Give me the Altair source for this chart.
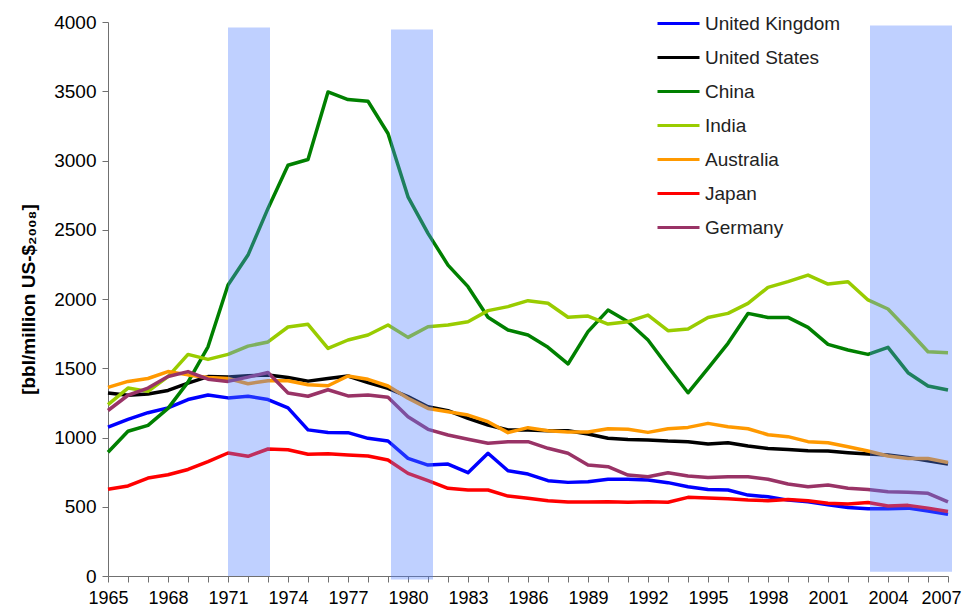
import altair as alt
import pandas as pd

years = list(range(1965, 2008))

countries = ["United Kingdom", "United States", "China", "India", "Australia", "Japan", "Germany"]
colors = ["#0000FF", "#000000", "#008000", "#99CC00", "#FF9900", "#FF0000", "#993366"]

uk = [1075, 1131, 1179, 1214, 1274, 1307, 1286, 1298, 1274, 1214, 1055, 1036,
      1035, 994, 975, 849, 801, 808, 746, 886, 760, 736, 688, 676,
      681, 698, 698, 693, 674, 645, 625, 621, 584, 572, 548,
      536, 515, 495, 485, 485, 490, 470, 445]
us = [1321, 1305, 1314, 1340, 1393, 1440, 1436, 1445, 1452, 1433, 1407, 1426,
      1444, 1396, 1355, 1295, 1222, 1194, 1138, 1090, 1054, 1054, 1049, 1049,
      1025, 994, 986, 982, 974, 970, 953, 962, 938, 921, 914,
      905, 902, 890, 881, 873, 856, 832, 808]
china = [893, 1045, 1088, 1210, 1400, 1655, 2101, 2317, 2654, 2966, 3007, 3495,
         3440, 3428, 3195, 2738, 2474, 2245, 2089, 1868, 1776, 1740, 1651, 1531,
         1764, 1920, 1836, 1704, 1511, 1323, 1499, 1680, 1896, 1867, 1867,
         1795, 1672, 1632, 1600, 1651, 1468, 1372, 1343]
india = [1238, 1357, 1333, 1440, 1600, 1564, 1600, 1660, 1690, 1798, 1817, 1643,
         1704, 1740, 1812, 1723, 1800, 1812, 1836, 1916, 1945, 1988, 1969, 1868,
         1877, 1819, 1836, 1884, 1771, 1783, 1867, 1896, 1968, 2084, 2125,
         2173, 2108, 2125, 1993, 1928, 1776, 1619, 1612]
australia = [1362, 1405, 1426, 1476, 1452, 1433, 1426, 1388, 1410, 1410, 1381, 1374,
             1444, 1420, 1372, 1283, 1210, 1186, 1162, 1114, 1035, 1071, 1049, 1039,
             1039, 1063, 1059, 1037, 1063, 1073, 1102, 1078, 1063, 1020, 1006,
             970, 962, 933, 902, 866, 849, 849, 820]
japan = [626, 650, 707, 731, 769, 826, 888, 864, 917, 912, 879, 883,
         873, 866, 837, 741, 688, 633, 621, 621, 577, 561, 544, 535,
         535, 536, 533, 536, 533, 568, 563, 558, 548, 544, 553,
         544, 525, 520, 530, 505, 510, 490, 465]
germany = [1195, 1305, 1357, 1440, 1476, 1421, 1405, 1436, 1469, 1321, 1298, 1345,
           1300, 1307, 1290, 1150, 1059, 1018, 987, 958, 970, 970, 922, 886,
           801, 789, 729, 717, 746, 722, 712, 717, 717, 698, 664,
           645, 657, 633, 625, 609, 604, 597, 536]

series = [uk, us, china, india, australia, japan, germany]

# shaded periods
band_start = [1971.0, 1979.15, 2003.1]
band_end = [1973.1, 1981.25, 2007.2]
band_top = [3960, 3945, 3975]
band_bottom = [0, -25, 30]

y_ticks = list(range(0, 4001, 500))
y_title = "[bbl/million US-$₂₀₀₈]"

rows = []
for name, vals in zip(countries, series):
    for yr, v in zip(years, vals):
        rows.append({"year": yr, "value": v, "country": name})
df = pd.DataFrame(rows)

bands_df = pd.DataFrame({"start": band_start, "end": band_end,
                         "top": band_top, "bottom": band_bottom})

FONT = "Liberation Sans"

x_scale = alt.Scale(domain=[1965, 2007], nice=False, zero=False)
y_scale = alt.Scale(domain=[0, 4000], nice=False)

x_axis = alt.Axis(values=years, title=None, labelOverlap=False,
                  labelExpr="(datum.value - 1965) % 3 == 0 ? '' + datum.value : ''",
                  labelFontSize=18, labelFont=FONT, labelColor="#000000",
                  tickSize=6, labelPadding=7, domainColor="#707070",
                  tickColor="#707070", labelFlush=False, labelBound=False,
                  labelOffset={"condition": {"test": "datum.value == 2007", "value": -7},
                               "value": 0})
y_axis = alt.Axis(values=y_ticks, title=y_title, format="d",
                  labelFontSize=19, labelFont=FONT, labelColor="#000000",
                  tickSize=6, labelPadding=6, domainColor="#707070",
                  tickColor="#707070",
                  titleFont=FONT, titleFontSize=19, titleFontWeight="bold",
                  titleColor="#000000", titleAngle=-90, titleX=-80, titleY=277,
                  titleAlign="center", titleBaseline="middle")

lines = alt.Chart(df).mark_line(strokeWidth=3.5, strokeJoin="round").encode(
    x=alt.X("year:Q", scale=x_scale, axis=x_axis),
    y=alt.Y("value:Q", scale=y_scale, axis=y_axis),
    color=alt.Color("country:N", sort=countries,
                    scale=alt.Scale(domain=countries, range=colors),
                    legend=alt.Legend(title=None, orient="none", legendX=548, legendY=-21,
                                      symbolType="stroke", symbolSize=1764,
                                      symbolStrokeWidth=3, labelFontSize=19,
                                      labelFont=FONT, labelColor="#222222",
                                      rowPadding=1.0, labelOffset=4)),
)

bands = alt.Chart(bands_df).mark_rect(color="#5280FF", opacity=0.37).encode(
    x=alt.X("start:Q", scale=x_scale, axis=x_axis),
    x2="end:Q",
    y=alt.Y("bottom:Q", scale=y_scale, axis=y_axis),
    y2="top:Q",
)

chart = alt.layer(lines, bands).properties(
    width=840, height=554,
    padding={"left": 100, "top": 14, "right": 15, "bottom": 31},
    autosize=alt.AutoSizeParams(type="none"),
).configure_view(stroke=None).configure_axis(grid=False)

chart.save("out.html", embed_options={"renderer": "svg", "actions": False})
